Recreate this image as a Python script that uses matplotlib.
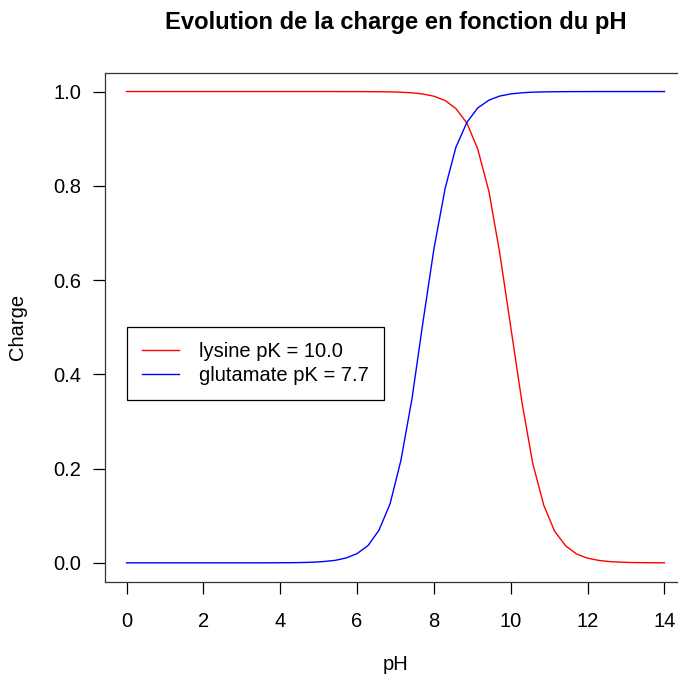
import matplotlib
matplotlib.use("Agg")
import matplotlib.pyplot as plt

plt.rcParams['font.family'] = ['Liberation Sans', 'DejaVu Sans']

# pH grid (50 points from 0 to 14)
pH = [0.00, 0.29, 0.57, 0.86, 1.14, 1.43, 1.71, 2.00, 2.29, 2.57,
      2.86, 3.14, 3.43, 3.71, 4.00, 4.29, 4.57, 4.86, 5.14, 5.43,
      5.71, 6.00, 6.29, 6.57, 6.86, 7.14, 7.43, 7.71, 8.00, 8.29,
      8.57, 8.86, 9.14, 9.43, 9.71, 10.00, 10.29, 10.57, 10.86, 11.14,
      11.43, 11.71, 12.00, 12.29, 12.57, 12.86, 13.14, 13.43, 13.71, 14.00]

# charge of lysine (pK = 10.0)
lysine = [1.0, 1.0, 1.0, 1.0, 1.0, 1.0, 1.0, 1.0, 1.0, 1.0,
          1.0, 1.0, 1.0, 1.0, 1.0, 1.0, 1.0, 1.0, 1.0, 1.0,
          0.9999, 0.9999, 0.9998, 0.9996, 0.9993, 0.9986, 0.9973, 0.9948, 0.9901, 0.9811,
          0.9641, 0.9329, 0.8780, 0.7884, 0.6588, 0.5, 0.3412, 0.2116, 0.1220, 0.0671,
          0.0359, 0.0189, 0.0099, 0.0052, 0.0027, 0.0014, 0.0007, 0.0004, 0.0002, 0.0001]

# charge of glutamate (pK = 7.7)
glutamate = [0.0, 0.0, 0.0, 0.0, 0.0, 0.0, 0.0, 0.0, 0.0, 0.0,
             0.0, 0.0, 0.0, 0.0001, 0.0002, 0.0004, 0.0007, 0.0014, 0.0028, 0.0053,
             0.0102, 0.0196, 0.0371, 0.0692, 0.1256, 0.2171, 0.3487, 0.5082, 0.6661, 0.7939,
             0.8814, 0.9349, 0.9652, 0.9817, 0.9904, 0.9950, 0.9974, 0.9987, 0.9993, 0.9996,
             0.9998, 0.9999, 0.9999, 1.0, 1.0, 1.0, 1.0, 1.0, 1.0, 1.0]

x_ticks = [0, 2, 4, 6, 8, 10, 12, 14]
y_ticks = [0.0, 0.2, 0.4, 0.6, 0.8, 1.0]

W, H = 678, 677
fs = 14.5
fig = plt.figure(figsize=(W / 100, H / 100), dpi=100)
# plot region in pixels: left 105, right 686 (cut by figure edge), top 72.7, bottom 581.7
ax = fig.add_axes([105 / W, 1 - 581.7 / H, 581 / W, 509 / H])

ax.plot(pH, lysine, color='#FF0000', lw=1.0, label='lysine pK = 10.0')
ax.plot(pH, glutamate, color='#0000FF', lw=1.0, label='glutamate pK = 7.7')

ax.set_xlim(-0.56, 14.56)
ax.set_ylim(-0.04, 1.04)
ax.set_xticks(x_ticks)
ax.set_xticklabels([str(t) for t in x_ticks])
ax.set_yticks(y_ticks)
ax.set_yticklabels([f"{t:.1f}" for t in y_ticks])
ax.tick_params(direction='out', length=8.3, width=0.9, labelsize=fs, colors='black')
ax.tick_params(axis='x', pad=13.5)
ax.tick_params(axis='y', pad=9)
for s in ax.spines.values():
    s.set_linewidth(0.9)
    s.set_color('#333333')

leg = ax.legend(loc='upper left', bbox_to_anchor=(0.0373, 0.501), borderaxespad=0,
                fontsize=fs, handlelength=1.86, handletextpad=1.0, labelspacing=0.25,
                borderpad=0.75, fancybox=False, framealpha=1)
leg.get_frame().set_edgecolor('black')
leg.get_frame().set_linewidth(0.9)

fig.text(395.5 / W, 1 - 22.5 / H, 'Evolution de la charge en fonction du pH',
         ha='center', va='center', fontsize=17.1, fontweight='bold')
fig.text(395.5 / W, 1 - 664 / H, 'pH', ha='center', va='center', fontsize=fs)
fig.text(18 / W, 1 - 327 / H, 'Charge', ha='center', va='center', fontsize=fs, rotation=90)

fig.savefig('out.png', dpi=100)
